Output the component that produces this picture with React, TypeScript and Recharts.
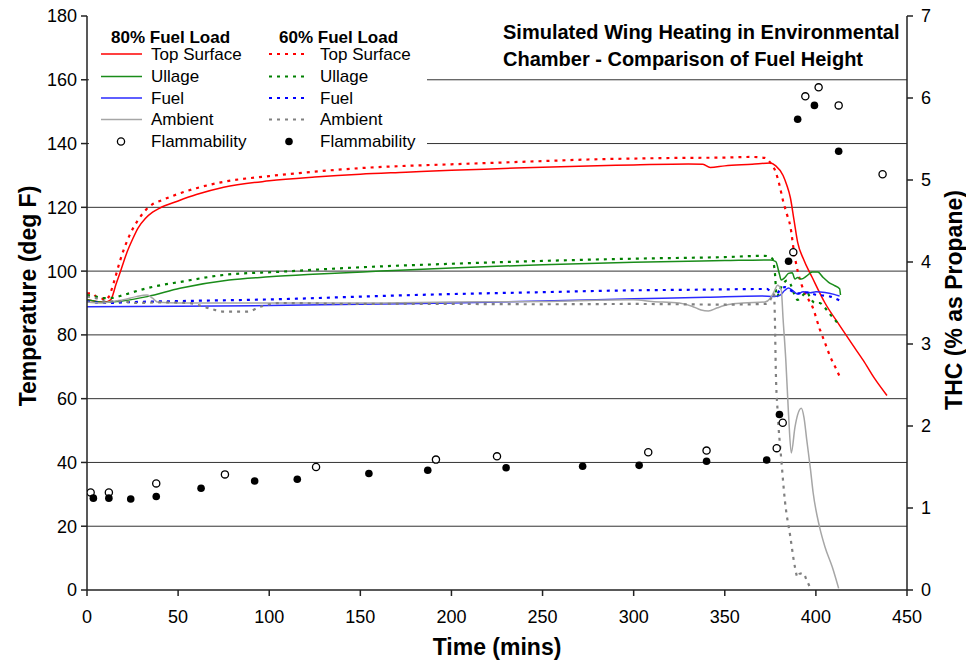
import React from 'react';
import { ComposedChart, Line, Scatter, XAxis, YAxis, CartesianGrid } from 'recharts';

type P = [number, number];

const xTicks = [0, 50, 100, 150, 200, 250, 300, 350, 400, 450];
const leftTicks = [0, 20, 40, 60, 80, 100, 120, 140, 160, 180];
const rightTicks = [0, 1, 2, 3, 4, 5, 6, 7];
const gridValues = [20, 40, 60, 80, 100, 120, 140, 160];

const topSurface80: P[] = [
  [0, 91], [5, 90.5], [10, 90.3], [13, 91], [16, 96], [19, 101], [22, 106], [25, 110], [28, 113.5],
  [32, 116.5], [36, 118.5], [40, 119.8], [50, 122], [60, 124], [75, 126.3], [100, 128.3], [125, 129.5],
  [150, 130.4], [175, 131], [200, 131.6], [225, 132.1], [250, 132.6], [275, 133], [300, 133.3],
  [330, 133.6], [338, 133.5], [342, 132.5], [350, 133], [365, 133.5], [375, 133.9], [378, 133],
  [382, 130], [384, 127], [386, 123], [388, 116], [390, 109], [393, 104], [398, 98], [405, 90],
  [413, 83], [420, 77], [426, 72], [432, 66.5], [439, 61],
];
const topSurface60: P[] = [
  [0, 93], [3, 93], [5, 92], [8, 91.5], [10, 90.8], [12, 92], [15, 97], [18, 103], [21, 108],
  [24, 112], [28, 116], [32, 119], [36, 121], [40, 122], [50, 124.2], [60, 126], [75, 128],
  [100, 129.8], [125, 131.2], [150, 132.3], [175, 133], [200, 133.5], [225, 134], [250, 134.5],
  [275, 135], [300, 135.3], [325, 135.5], [350, 135.6], [365, 135.8], [372, 135.5], [375, 134],
  [378, 131], [380, 127], [382, 122], [384, 118], [386, 114], [388, 106], [390, 100], [392, 96],
  [395, 92], [398, 89], [402, 82], [405, 77.5], [408, 73], [411, 69.5], [413, 67],
];
const ullage80: P[] = [
  [0, 91], [10, 90.2], [20, 90.7], [33, 92], [51, 94.6], [78, 97.2], [100, 98.2], [124, 99],
  [161, 100], [200, 101], [250, 102], [300, 102.8], [350, 103.3], [375, 103.5], [378, 103],
  [380, 99], [381, 97.2], [383, 98], [385, 99.3], [387, 99.5], [388.5, 97.5], [390, 98],
  [392, 97.5], [395, 98.5], [398, 99.7], [401, 99.7], [404, 98], [407, 96.5], [410, 95.5],
  [413, 94.5], [413.5, 92.5],
];
const ullage60: P[] = [
  [0, 92.5], [5, 92], [10, 91.5], [14, 91.6], [20, 92.5], [30, 94.2], [38, 95.3], [51, 96.6],
  [75, 98.8], [106, 99.8], [150, 101.2], [200, 102.3], [250, 103.2], [300, 103.9], [350, 104.4],
  [372, 104.8], [376, 104], [377.5, 99.5], [378.5, 92], [381, 95], [384, 97], [386, 96],
  [388, 93], [390, 91], [393, 92.5], [395, 93.5], [397, 91.5], [399.5, 90], [402, 90],
  [405, 88.5], [407, 87], [410, 85], [413, 83],
];
const fuel80: P[] = [
  [0, 88.8], [50, 89], [100, 89.2], [150, 89.6], [200, 90], [250, 90.6], [300, 91.3], [340, 91.8],
  [370, 92.2], [377, 92], [380, 92.3], [383, 94], [385, 94.7], [387, 94], [390, 92.8], [393, 93.5],
  [397, 93.2], [400, 93.5], [405, 93.3], [410, 92.7], [413, 92.2],
];
const fuel60: P[] = [
  [0, 90.5], [10, 90], [25, 90.3], [50, 90.6], [106, 91.2], [161, 92.2], [200, 92.8], [250, 93.4],
  [291, 93.9], [340, 94.2], [373, 94.4], [376, 93], [378, 92], [380, 94], [383, 95], [386, 94],
  [390, 93], [395, 93.3], [400, 92.6], [405, 92.3], [408, 92], [413, 90.8],
];
const ambient80: P[] = [
  [0, 90.3], [8, 90], [12, 90.3], [20, 91], [27, 92], [33, 92.5], [36, 91.5], [39, 90.2], [50, 90],
  [100, 90], [150, 90], [200, 90.3], [250, 90.5], [300, 91], [310, 90.5], [325, 90], [332, 89],
  [337, 87.8], [341, 87.5], [346, 88.5], [352, 89.5], [360, 90], [372, 90.3], [375, 91.5],
  [377, 93.5], [379, 95.6], [381, 94], [382, 85], [383.5, 72], [385, 55], [386.5, 43], [388.5, 51],
  [390, 55], [392, 57], [393.5, 54], [395, 47], [397, 38], [398.5, 30.5], [402, 19.8], [405, 13.5],
  [409, 7.2], [412.5, 0.5],
];
const ambient60: P[] = [
  [0, 92], [5, 91.5], [10, 90.5], [20, 90.5], [27, 90], [40, 90.2], [56, 90], [63, 89], [69, 88],
  [75, 87.3], [88, 87.3], [95, 88.8], [106, 90], [150, 89.7], [200, 89.7], [250, 89.6], [300, 89.7],
  [350, 89.5], [372, 89.7], [375, 91], [377, 93], [377.5, 85], [378, 69], [379, 56], [381, 41],
  [383, 28], [386, 16.6], [388.5, 7.2], [390, 4], [391, 5], [393, 5.3], [395, 3], [397, 0.5],
];
const flammability80: P[] = [
  [2, 1.19], [12, 1.19], [38, 1.3], [75.7, 1.41], [125.7, 1.5], [191.5, 1.59], [225, 1.63],
  [308, 1.68], [340, 1.7], [378.5, 1.73], [381.8, 2.04], [387.6, 4.12], [394.2, 6.02],
  [401.5, 6.13], [412.5, 5.91], [436.6, 5.07],
];
const flammability60: P[] = [
  [3.5, 1.12], [12, 1.12], [24, 1.11], [38, 1.14], [62.6, 1.24], [92, 1.33], [115.4, 1.35],
  [154.7, 1.42], [187, 1.46], [230, 1.49], [272, 1.51], [303, 1.52], [340, 1.57], [373, 1.585],
  [380, 2.14], [385, 4.01], [390, 5.74], [399.2, 5.91], [412.5, 5.35],
];

const rows = (pts: P[]) => pts.map(([t, v]) => ({ t, v }));

const FONT = '"Liberation Sans", Arial, Helvetica, sans-serif';
const DOT = '3 5';

const lineSeries = [
  { name: 'Top Surface 80', data: topSurface80, color: '#FF0000', dash: undefined, w: 1.5 },
  { name: 'Top Surface 60', data: topSurface60, color: '#FF0000', dash: DOT, w: 2.2 },
  { name: 'Ullage 80', data: ullage80, color: '#1A8C1A', dash: undefined, w: 1.5 },
  { name: 'Ullage 60', data: ullage60, color: '#008000', dash: DOT, w: 2.2 },
  { name: 'Fuel 80', data: fuel80, color: '#2A2AFF', dash: undefined, w: 1.5 },
  { name: 'Fuel 60', data: fuel60, color: '#0000FF', dash: DOT, w: 2.2 },
  { name: 'Ambient 80', data: ambient80, color: '#A6A6A6', dash: undefined, w: 1.5 },
  { name: 'Ambient 60', data: ambient60, color: '#808080', dash: DOT, w: 2.2 },
];

const legendRows = [
  { label: 'Top Surface', c80: '#FF0000', c60: '#FF0000' },
  { label: 'Ullage', c80: '#1A8C1A', c60: '#008000' },
  { label: 'Fuel', c80: '#2A2AFF', c60: '#0000FF' },
  { label: 'Ambient', c80: '#A6A6A6', c60: '#808080' },
];
const legendY = [54, 76.5, 98, 119.5];

const OpenDot = (p: any) => (
  <circle cx={p.cx} cy={p.cy} r={3.6} fill="#fff" stroke="#000" strokeWidth={1.3} />
);
const FilledDot = (p: any) => <circle cx={p.cx} cy={p.cy} r={3.8} fill="#000" />;

const tickStyle = { fill: '#000', fontSize: 18, fontFamily: FONT };

export default function App() {
  return (
    <div style={{ position: 'absolute', left: 0, top: 0, width: 966, height: 660, background: '#fff', fontFamily: FONT, overflow: 'hidden' }}>
      <ComposedChart width={966} height={660} margin={{ top: 16, right: 0, bottom: 0, left: 0 }}>
        <CartesianGrid vertical={false} yAxisId="left" horizontalValues={gridValues} stroke="#333" strokeWidth={1} />
        <XAxis
          type="number"
          dataKey="t"
          domain={[0, 450]}
          ticks={xTicks}
          allowDataOverflow
          height={70}
          tick={tickStyle}
          tickSize={6}
          tickMargin={14}
          stroke="#222"
          strokeWidth={1.5}
        />
        <YAxis
          yAxisId="left"
          domain={[0, 180]}
          ticks={leftTicks}
          allowDataOverflow
          width={87}
          tick={tickStyle}
          tickSize={6}
          tickMargin={4}
          stroke="#222"
          strokeWidth={1.5}
        />
        <YAxis
          yAxisId="right"
          orientation="right"
          domain={[0, 7]}
          ticks={rightTicks}
          allowDataOverflow
          width={59}
          tick={tickStyle}
          tickSize={6}
          tickMargin={8}
          stroke="#222"
          strokeWidth={1.5}
        />
        {lineSeries.map((s) => (
          <Line
            key={s.name}
            yAxisId="left"
            data={rows(s.data)}
            dataKey="v"
            type="monotone"
            stroke={s.color}
            strokeWidth={s.w}
            strokeDasharray={s.dash}
            dot={false}
            activeDot={false}
            isAnimationActive={false}
          />
        ))}
        <Scatter yAxisId="right" data={rows(flammability80)} dataKey="v" shape={OpenDot} isAnimationActive={false} />
        <Scatter yAxisId="right" data={rows(flammability60)} dataKey="v" shape={FilledDot} isAnimationActive={false} />
      </ComposedChart>
      <svg
        width={966}
        height={660}
        style={{ position: 'absolute', left: 0, top: 0, pointerEvents: 'none' }}
        fontFamily={FONT}
      >
        <rect x={89} y={16} width={338} height={140} fill="#fff" />
        <text x={111} y={37} fontSize={17} fontWeight="bold" dominantBaseline="central">80% Fuel Load</text>
        <text x={279} y={37} fontSize={17} fontWeight="bold" dominantBaseline="central">60% Fuel Load</text>
        {legendRows.map((r, i) => (
          <g key={r.label}>
            <line x1={101} x2={142} y1={legendY[i]} y2={legendY[i]} stroke={r.c80} strokeWidth={1.6} />
            <text x={151} y={legendY[i]} fontSize={17} dominantBaseline="central">{r.label}</text>
            <line x1={269} x2={308} y1={legendY[i]} y2={legendY[i]} stroke={r.c60} strokeWidth={2.2} strokeDasharray={DOT} />
            <text x={320} y={legendY[i]} fontSize={17} dominantBaseline="central">{r.label}</text>
          </g>
        ))}
        <circle cx={121} cy={141.5} r={3.6} fill="#fff" stroke="#000" strokeWidth={1.3} />
        <text x={151} y={141.5} fontSize={17} dominantBaseline="central">Flammability</text>
        <circle cx={289} cy={141.5} r={3.8} fill="#000" />
        <text x={320} y={141.5} fontSize={17} dominantBaseline="central">Flammability</text>

        <text x={503} y={32} fontSize={20} fontWeight="bold" dominantBaseline="central">Simulated Wing Heating in Environmental</text>
        <text x={503} y={59} fontSize={20} fontWeight="bold" dominantBaseline="central">Chamber - Comparison of Fuel Height</text>

        <text x={28} y={296} fontSize={23} fontWeight="bold" textAnchor="middle" dominantBaseline="central" transform="rotate(-90 28 296)">Temperature (deg F)</text>
        <text x={954} y={300} fontSize={23} fontWeight="bold" textAnchor="middle" dominantBaseline="central" transform="rotate(-90 954 300)">THC (% as Propane)</text>
        <text x={497} y={647} fontSize={23} fontWeight="bold" textAnchor="middle" dominantBaseline="central">Time (mins)</text>
      </svg>
    </div>
  );
}
